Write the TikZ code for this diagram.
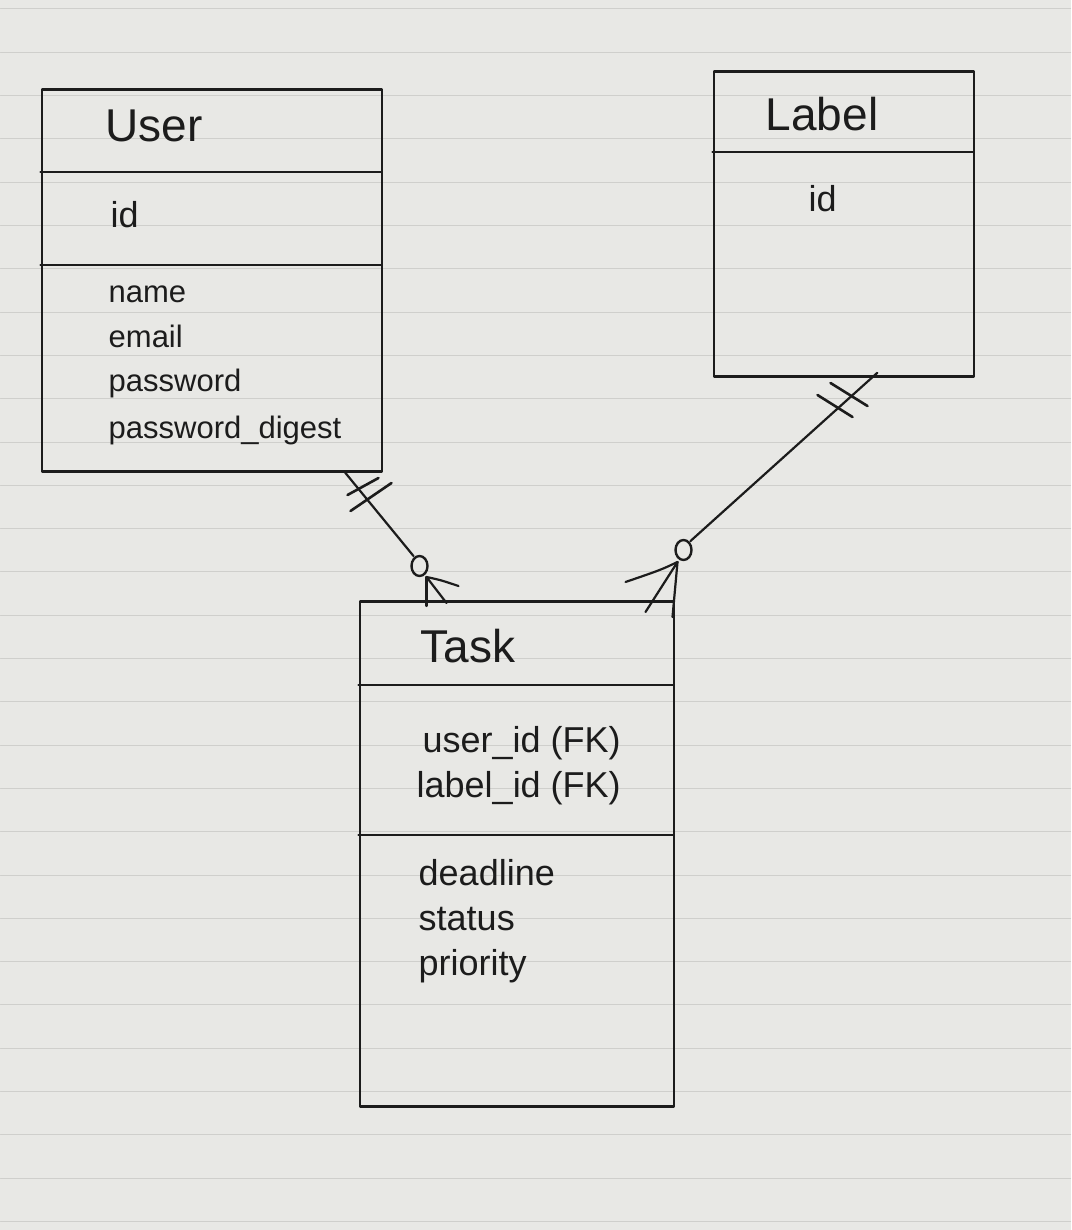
\documentclass[tikz,border=0pt]{standalone}
\usepackage{fontspec}
\setmainfont{Liberation Sans}
\definecolor{ink}{HTML}{1C1C1C}
\definecolor{paper}{HTML}{E8E8E5}
\definecolor{ruling}{HTML}{CFCFCC}
\begin{document}
\begin{tikzpicture}[x=1pt,y=-1pt,line join=round,line cap=round,
  ent/.style={draw=ink,line width=2.8pt,inner sep=0pt,anchor=north west},
  divider/.style={draw=ink,line width=2.4pt},
  txt/.style={anchor=base west,font=\fontsize{31}{36}\selectfont,text=ink,inner sep=0pt},
  tasktxt/.style={anchor=base west,font=\fontsize{36}{42}\selectfont,text=ink,inner sep=0pt},
  idtxt/.style={anchor=base west,font=\fontsize{36}{42}\selectfont,text=ink,inner sep=0pt},
  ttl/.style={anchor=base west,font=\fontsize{46}{52}\selectfont,text=ink,inner sep=0pt},
  rel/.style={draw=ink,line width=2.2pt},
  bar/.style={draw=ink,line width=2.6pt},
  opt/.style={draw=ink,line width=2.4pt},
]
\fill[paper] (0,0) rectangle (1070,1230);
\foreach \i in {0,...,28} \draw[ruling,line width=1pt] (0,9+43.3*\i) -- (1070,9+43.3*\i);
\useasboundingbox (0,0) rectangle (1070,1230);

% User entity
\node[ent,minimum width=340pt,minimum height=382pt] (user) at (40,88) {};
\draw[divider] (40,172) -- (380,172);
\draw[divider] (40,265) -- (380,265);
\node[ttl] (usert) at (105,142) {User};
\node[idtxt] (userid) at (110,228) {id};
\node[txt] (uname) at (108,302) {name};
\node[txt] (uemail) at (108,347) {email};
\node[txt] (upw) at (108,391) {password};
\node[txt] (upwd) at (108,438) {password\_digest};

% Label entity
\node[ent,minimum width=260pt,minimum height=305pt] (label) at (712,70) {};
\draw[divider] (712,152) -- (972,152);
\node[ttl] (labelt) at (765,131) {Label};
\node[idtxt] (labelid) at (808,212) {id};

% Task entity
\node[ent,minimum width=314pt,minimum height=505pt] (task) at (358,600) {};
\draw[divider] (358,685) -- (672,685);
\draw[divider] (358,835) -- (672,835);
\node[ttl] (taskt) at (420,662) {Task};
\node[tasktxt] (tuid) at (422,752) {user\_id (FK)};
\node[tasktxt] (tlid) at (416,797) {label\_id (FK)};
\node[tasktxt] (tdl) at (418,885) {deadline};
\node[tasktxt] (tst) at (418,930) {status};
\node[tasktxt] (tpr) at (418,975) {priority};

% User -- Task (one and only one to zero or many)
\coordinate (uc) at (419,566);
\coordinate (uf) at (426,577);
\draw[rel] ([xshift=-38pt]user.south east) -- (413,556);
\draw[opt] (uc) ellipse [x radius=8pt,y radius=10pt];
\draw[rel] (uf) -- (426,606);
\draw[rel] (uf) -- (446,603);
\draw[rel] (uf) .. controls (440,580) .. (458,586);
\draw[bar] (347,495) -- (378,478);
\draw[bar] (350,511) -- (391,483);

% Label -- Task (one and only one to zero or many)
\coordinate (lc) at (683,550);
\coordinate (lf) at (677,562);
\draw[rel] ([xshift=-98pt,yshift=5pt]label.south east) -- (690,541);
\draw[opt] (lc) ellipse [x radius=8pt,y radius=10pt];
\draw[rel] (lf) -- (672,617);
\draw[rel] (lf) -- (645,612);
\draw[rel] (lf) .. controls (660,570) .. (625,582);
\draw[bar] (830,383) -- (867,406);
\draw[bar] (817,395) -- (852,417);
\end{tikzpicture}
\end{document}
